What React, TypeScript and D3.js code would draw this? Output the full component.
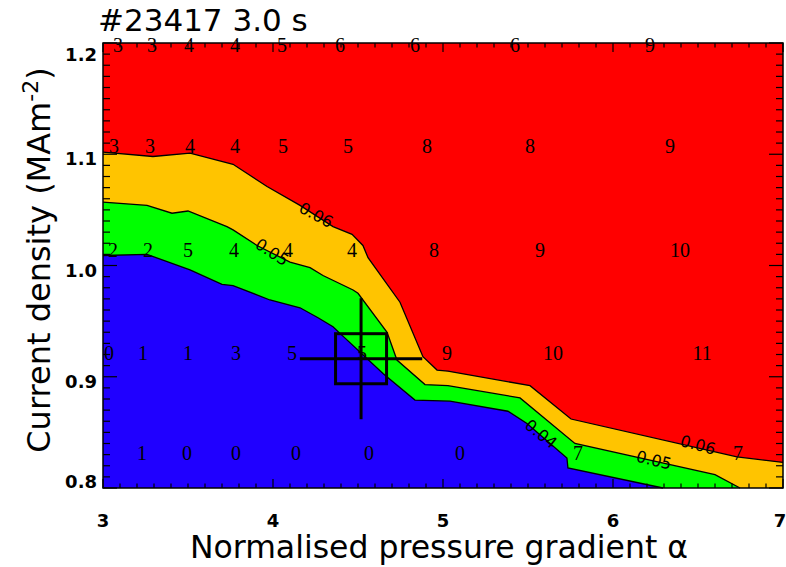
import React from 'react';
import * as d3 from 'd3';

// ---------- data ----------
const alphaDomain: [number, number] = [3, 7];
const jDomain: [number, number] = [0.8, 1.2];
const xTickValues = [3, 4, 5, 6, 7];
const yTickValues = [0.8, 0.9, 1.0, 1.1, 1.2];

// contour level 0.06 (orange / red boundary)
const contour06: [number, number][] = [
  [3.0, 1.102], [3.294, 1.098], [3.512, 1.101], [3.765, 1.091], [3.965, 1.071],
  [4.159, 1.054], [4.353, 1.035], [4.465, 1.028], [4.529, 1.018], [4.559, 1.007],
  [4.747, 0.967], [4.882, 0.918], [4.965, 0.906], [5.029, 0.905], [5.512, 0.892],
  [5.753, 0.862], [6.729, 0.828], [7.0, 0.823],
];
// contour level 0.05 (green / orange boundary)
const contour05: [number, number][] = [
  [3.0, 1.057], [3.259, 1.054], [3.406, 1.047], [3.5, 1.049], [3.729, 1.035],
  [3.765, 1.032], [3.906, 1.018], [4.1, 1.003], [4.218, 0.998], [4.294, 0.991],
  [4.471, 0.978], [4.5, 0.975], [4.671, 0.94], [4.729, 0.915], [4.894, 0.893],
  [5.029, 0.892], [5.453, 0.881], [5.776, 0.84], [6.6, 0.812], [6.747, 0.8],
];
// contour level 0.04 (blue / green boundary)
const contour04: [number, number][] = [
  [3.0, 1.009], [3.259, 1.01], [3.512, 0.996], [3.7, 0.983], [3.765, 0.982],
  [3.982, 0.969], [4.159, 0.962], [4.265, 0.953], [4.353, 0.945], [4.394, 0.939],
  [4.647, 0.903], [4.835, 0.879], [5.041, 0.878], [5.382, 0.869], [5.494, 0.858],
  [5.729, 0.827], [5.735, 0.818], [6.294, 0.8],
];

const bandColors = ['#2000ff', '#00ff00', '#ffc400', '#ff0000'];

const contourLabelText = ['0.06', '0.05', '0.04', '0.05', '0.06'];
const contourLabelAlpha = [4.253, 3.994, 5.576, 6.241, 6.5];
const contourLabelJ = [1.0454, 1.012, 0.8485, 0.825, 0.8387];
const contourLabelAngle = [28, 33, 39, 14, 15];

// numbers at the scan points
const rowJ = [1.192, 1.101, 1.008, 0.915, 0.825];
const rowAlpha = [
  [3.088, 3.288, 3.506, 3.776, 4.053, 4.394, 4.835, 5.424, 6.218],
  [3.065, 3.276, 3.512, 3.776, 4.059, 4.441, 4.906, 5.512, 6.335],
  [3.059, 3.265, 3.5, 3.771, 4.088, 4.465, 4.947, 5.571, 6.394],
  [3.035, 3.235, 3.5, 3.782, 4.112, 4.524, 5.024, 5.647, 6.524],
  [3.229, 3.494, 3.782, 4.135, 4.565, 5.1, 5.794, 6.735],
];
const rowLabels = [
  ['3', '3', '4', '4', '5', '6', '6', '6', '9'],
  ['3', '3', '4', '4', '5', '5', '8', '8', '9'],
  ['2', '2', '5', '4', '4', '4', '8', '9', '10'],
  ['0', '1', '1', '3', '5', '5', '9', '10', '11'],
  ['1', '0', '0', '0', '0', '0', '7', '7'],
];

// experimental point
const pointAlpha = 4.518;
const pointJ = 0.9162;
const errAlpha = 0.36;
const errJ = 0.0544;
const boxAlpha = 0.15;
const boxJ = 0.0225;

// ---------- layout ----------
const W = 786;
const H = 567;
const L = 103, R = 783, T = 43, B = 488;

export default function App() {
  const x = d3.scaleLinear().domain(alphaDomain).range([L, R]);
  const y = d3.scaleLinear().domain(jDomain).range([B, T]);
  const line = d3.line<[number, number]>().x(d => x(d[0])).y(d => y(d[1]));

  const closePoly = (pts: [number, number][]) => {
    const last = pts[pts.length - 1];
    const poly: [number, number][] = [...pts, [last[0], jDomain[0]], [alphaDomain[0], jDomain[0]]];
    return line(poly) + 'Z';
  };

  const minorX = d3.range(30, 71).map(v => v / 10);
  const minorY = d3.range(80, 121).map(v => v / 100);

  const tickFont = 'DejaVu Sans, sans-serif';

  return (
    <svg width={W} height={H} style={{ position: 'absolute', left: 0, top: 0, background: '#fff' }}
      xmlns="http://www.w3.org/2000/svg">
      <rect x={0} y={0} width={W} height={H} fill="#fff" />
      {/* filled bands */}
      <rect x={L} y={T} width={R - L} height={B - T} fill={bandColors[3]} />
      <path d={closePoly(contour06)} fill={bandColors[2]} />
      <path d={closePoly(contour05)} fill={bandColors[1]} />
      <path d={closePoly(contour04)} fill={bandColors[0]} />
      {/* contour lines */}
      {[contour06, contour05, contour04].map((c, i) => (
        <path key={i} d={line(c) || ''} fill="none" stroke="#000" strokeWidth={1.3} />
      ))}
      {/* scan point numbers */}
      {rowAlpha.map((row, ri) =>
        row.map((a, ci) => (
          <text key={`n${ri}-${ci}`} x={x(a)} y={y(rowJ[ri])} textAnchor="middle"
            fontFamily="Liberation Serif, serif" fontSize={20} fill="#000">
            {rowLabels[ri][ci]}
          </text>
        ))
      )}
      {/* contour labels */}
      {contourLabelText.map((t, i) => (
        <text key={`cl${i}`} textAnchor="middle" dominantBaseline="central"
          transform={`translate(${x(contourLabelAlpha[i])},${y(contourLabelJ[i])}) rotate(${contourLabelAngle[i]})`}
          fontFamily={tickFont} fontSize={16} fill="#000">
          {t}
        </text>
      ))}
      {/* experimental point with error bars */}
      <g stroke="#000" strokeWidth={3} fill="none">
        <line x1={x(pointAlpha - errAlpha)} x2={x(pointAlpha + errAlpha)} y1={y(pointJ)} y2={y(pointJ)} />
        <line x1={x(pointAlpha)} x2={x(pointAlpha)} y1={y(pointJ - errJ)} y2={y(pointJ + errJ)} />
        <rect x={x(pointAlpha - boxAlpha)} y={y(pointJ + boxJ)}
          width={x(pointAlpha + boxAlpha) - x(pointAlpha - boxAlpha)}
          height={y(pointJ - boxJ) - y(pointJ + boxJ)} />
      </g>
      {/* frame */}
      <rect x={L} y={T} width={R - L} height={B - T} fill="none" stroke="#000" strokeWidth={1.5} />
      {/* ticks */}
      <g stroke="#000" strokeWidth={1.2}>
        {minorX.map((v, i) => {
          const major = xTickValues.some(m => Math.abs(m - v) < 1e-6);
          const len = major ? 9 : 4.5;
          return (
            <g key={`tx${i}`}>
              <line x1={x(v)} x2={x(v)} y1={B} y2={B - len} />
              <line x1={x(v)} x2={x(v)} y1={T} y2={T + len} />
            </g>
          );
        })}
        {minorY.map((v, i) => {
          const major = yTickValues.some(m => Math.abs(m - v) < 1e-6);
          const len = major ? 14 : 7;
          return (
            <g key={`ty${i}`}>
              <line x1={L} x2={L + len} y1={y(v)} y2={y(v)} />
              <line x1={R} x2={R - len} y1={y(v)} y2={y(v)} />
            </g>
          );
        })}
      </g>
      {/* tick labels */}
      {xTickValues.map(v => (
        <text key={`xl${v}`} x={Math.min(x(v), W - 6)} y={527} textAnchor="middle" fontFamily={tickFont}
          fontWeight="bold" fontSize={18} fill="#000">{d3.format('d')(v)}</text>
      ))}
      {yTickValues.map(v => (
        <text key={`yl${v}`} x={97} y={Math.max(T + 18, Math.min(B, y(v) + 11))} textAnchor="end"
          fontFamily={tickFont} fontWeight="bold" fontSize={18} fill="#000">{d3.format('.1f')(v)}</text>
      ))}
      {/* titles */}
      <text x={98} y={31} fontFamily={tickFont} fontSize={31} fill="#000">#23417 3.0 s</text>
      <text x={439} y={558} textAnchor="middle" fontFamily={tickFont} fontSize={31.5} fill="#000">
        Normalised pressure gradient α
      </text>
      <text transform="translate(50,260) rotate(-90)" textAnchor="middle" fontFamily={tickFont}
        fontSize={32} fill="#000">
        Current density (MAm<tspan fontSize={22} dy={-12}>-2</tspan><tspan dy={12}>)</tspan>
      </text>
    </svg>
  );
}
